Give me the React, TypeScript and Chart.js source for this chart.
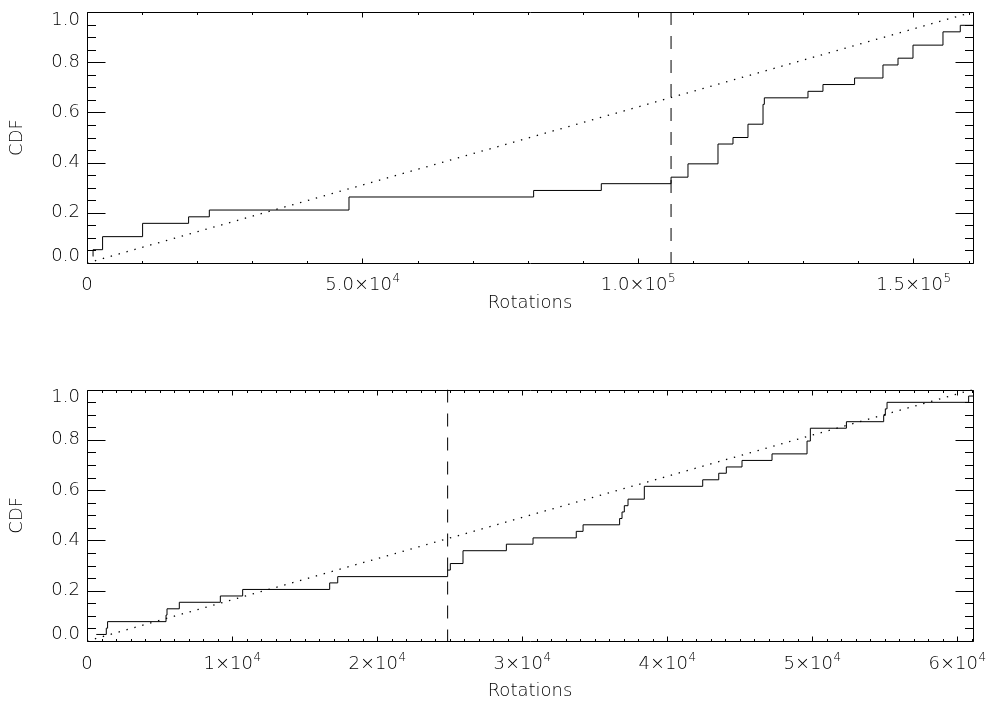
import React, { useEffect, useRef } from "react";
import { Chart, registerables } from "chart.js";

Chart.register(...registerables);

// ---------- Data ----------
const topRotations = [
  1090, 1100, 2830, 10090, 18440, 22200, 47550, 81060, 93340, 106000,
  109070, 114520, 117240, 119960, 122690, 122930, 130850, 133570, 139310,
  144460, 147190, 149910, 155350, 158490, 160800,
];
const topCdf = [
  0.026, 0.053, 0.105, 0.158, 0.184, 0.211, 0.263, 0.289, 0.316, 0.342,
  0.395, 0.474, 0.5, 0.553, 0.632, 0.658, 0.684, 0.711, 0.737,
  0.789, 0.816, 0.868, 0.921, 0.947, 0.947,
];
const topMaxRotation = 160800;
const topMarker = 106000;
const topXTickValues = [0, 50000, 100000, 150000];
const topXTickLabels = ["0", "5.0×10^4", "1.0×10^5", "1.5×10^5"];
const topXMinorStep = 10000;

const bottomRotations = [
  640, 1330, 1420, 5450, 5517, 6366, 9195, 10735, 16736, 17290, 24870,
  25055, 25930, 28920, 30760, 33740, 34210, 36730, 36896, 37055, 37310,
  38434, 42460, 43566, 44090, 45170, 47240, 49655, 49883, 52370, 54940,
  55055, 55172, 60800, 61100,
];
const bottomCdf = [
  0.026, 0.051, 0.077, 0.103, 0.128, 0.154, 0.179, 0.205, 0.231, 0.256,
  0.282, 0.308, 0.359, 0.385, 0.41, 0.436, 0.462, 0.487, 0.513, 0.538,
  0.564, 0.615, 0.641, 0.667, 0.692, 0.718, 0.744, 0.795, 0.846, 0.872,
  0.897, 0.923, 0.949, 0.974, 0.974,
];
const bottomMaxRotation = 61100;
const bottomMarker = 24870;
const bottomXTickValues = [0, 10000, 20000, 30000, 40000, 50000, 60000];
const bottomXTickLabels = ["0", "1×10^4", "2×10^4", "3×10^4", "4×10^4", "5×10^4", "6×10^4"];
const bottomXMinorStep = 1000;

const yTickValues = [0, 0.2, 0.4, 0.6, 0.8, 1.0];
const yTickLabels = ["0.0", "0.2", "0.4", "0.6", "0.8", "1.0"];
const yMinorStep = 0.05;

const xTitle = "Rotations";
const yTitle = "CDF";

// ---------- Styling ----------
const FONT_FAMILY = "'DejaVu Sans', sans-serif";
const FONT_WEIGHT = "300";
const FONT_SIZE = 18;
const SUP_SIZE = 12;
const TEXT_COLOR = "#000";

type PanelCfg = {
  rotations: number[];
  cdf: number[];
  xMax: number;
  marker: number;
  xTicks: number[];
  xLabels: string[];
  xMinor: number;
  padTop: number;
  xScaleHeight: number;
  xLabelBaseline: number;
  xTitlePadBottom: number;
};

const idlAxes = {
  id: "idlAxes",
  afterDraw(chart: any, _args: any, opts: any) {
    const { ctx, chartArea: a } = chart;
    const xs = chart.scales.x;
    const ys = chart.scales.y;
    const L = Math.round(a.left) + 0.5;
    const R = Math.round(a.right) + 0.5;
    const T = Math.round(a.top) + 0.5;
    const B = Math.round(a.bottom) + 0.5;
    ctx.save();
    ctx.strokeStyle = "#000";
    ctx.lineWidth = 1;
    ctx.beginPath();
    ctx.rect(L, T, R - L, B - T);
    ctx.stroke();

    // x ticks (inward, on bottom and top)
    const xMajor: number[] = opts.xTicks;
    ctx.beginPath();
    for (let v = 0; v <= xs.max + 1e-6; v += opts.xMinor) {
      const isMajor = xMajor.some((m) => Math.abs(m - v) < opts.xMinor * 0.01);
      const len = isMajor ? 5 : 2.5;
      const px = Math.round(xs.getPixelForValue(v)) + 0.5;
      ctx.moveTo(px, B);
      ctx.lineTo(px, B - len);
      ctx.moveTo(px, T);
      ctx.lineTo(px, T + len);
    }
    // y ticks (inward, on left and right)
    for (let i = 0; i <= Math.round(1 / yMinorStep); i++) {
      const v = i * yMinorStep;
      const isMajor = yTickValues.some((m) => Math.abs(m - v) < 1e-6);
      const len = isMajor ? 18 : 8.5;
      const py = Math.round(ys.getPixelForValue(v)) + 0.5;
      ctx.moveTo(L, py);
      ctx.lineTo(L + len, py);
      ctx.moveTo(R, py);
      ctx.lineTo(R - len, py);
    }
    ctx.stroke();

    // y tick labels
    ctx.fillStyle = TEXT_COLOR;
    ctx.font = `${FONT_WEIGHT} ${FONT_SIZE}px ${FONT_FAMILY}`;
    ctx.textAlign = "right";
    ctx.textBaseline = "middle";
    yTickValues.forEach((v, i) => {
      let py = ys.getPixelForValue(v);
      py = Math.min(Math.max(py, a.top + 8), a.bottom - 7);
      ctx.fillText(yTickLabels[i], a.left - 7, py);
    });

    // x tick labels with superscripts
    ctx.textAlign = "left";
    ctx.textBaseline = "alphabetic";
    const baseFont = `${FONT_WEIGHT} ${FONT_SIZE}px ${FONT_FAMILY}`;
    const supFont = `${FONT_WEIGHT} ${SUP_SIZE}px ${FONT_FAMILY}`;
    xMajor.forEach((v, i) => {
      const [base, exp] = (opts.xLabels[i] as string).split("^");
      ctx.font = baseFont;
      const wb = ctx.measureText(base).width;
      ctx.font = supFont;
      const we = exp ? ctx.measureText(exp).width : 0;
      const px = xs.getPixelForValue(v);
      const x0 = px - (wb + we) / 2;
      const by = a.bottom + opts.xLabelBaseline;
      ctx.font = baseFont;
      ctx.fillText(base, x0, by);
      if (exp) {
        ctx.font = supFont;
        ctx.fillText(exp, x0 + wb + 0.5, by - 8);
      }
    });
    ctx.restore();
  },
};

function Panel({ cfg }: { cfg: PanelCfg }) {
  const ref = useRef<HTMLCanvasElement | null>(null);
  useEffect(() => {
    if (!ref.current) return;
    const titleFont = { family: FONT_FAMILY, size: FONT_SIZE, weight: FONT_WEIGHT as any };
    const chart = new Chart(ref.current, {
      type: "scatter",
      data: {
        datasets: [
          {
            data: cfg.rotations.map((x, i) => ({ x, y: cfg.cdf[i] })),
            showLine: true,
            stepped: true,
            borderColor: "#000",
            borderWidth: 1,
            pointRadius: 0,
          } as any,
          {
            data: [
              { x: 0, y: 0 },
              { x: cfg.xMax, y: 1 },
            ],
            showLine: true,
            borderColor: "#000",
            borderWidth: 1.3,
            borderDash: [1.4, 6.8],
            pointRadius: 0,
          },
          {
            data: [
              { x: cfg.marker, y: 1 },
              { x: cfg.marker, y: 0 },
            ],
            showLine: true,
            borderColor: "#000",
            borderWidth: 1,
            borderDash: [13, 11],
            pointRadius: 0,
          },
        ],
      },
      options: {
        animation: false,
        responsive: false,
        events: [],
        layout: { padding: { top: cfg.padTop, right: 17, left: 0, bottom: 0 } },
        plugins: {
          legend: { display: false },
          tooltip: { enabled: false },
          idlAxes: {
            xTicks: cfg.xTicks,
            xLabels: cfg.xLabels,
            xMinor: cfg.xMinor,
            xLabelBaseline: cfg.xLabelBaseline,
          },
        } as any,
        scales: {
          x: {
            type: "linear",
            min: 0,
            max: cfg.xMax,
            grid: { display: false },
            border: { display: false },
            ticks: { display: false },
            title: {
              display: true,
              text: xTitle,
              color: TEXT_COLOR,
              font: titleFont,
              padding: { top: 0, bottom: cfg.xTitlePadBottom },
            },
            afterFit: (s: any) => {
              s.height = cfg.xScaleHeight;
            },
          },
          y: {
            type: "linear",
            min: 0,
            max: 1,
            grid: { display: false },
            border: { display: false },
            ticks: { display: false },
            title: {
              display: true,
              text: yTitle,
              color: TEXT_COLOR,
              font: titleFont,
              padding: { top: 7, bottom: 0 },
            },
            afterFit: (s: any) => {
              s.width = 87;
            },
          },
        },
      },
      plugins: [idlAxes],
    });
    return () => chart.destroy();
  }, [cfg]);
  return <canvas ref={ref} width={990} height={352} style={{ display: "block", width: 990, height: 352 }} />;
}

const topCfg: PanelCfg = {
  rotations: topRotations,
  cdf: topCdf,
  xMax: topMaxRotation,
  marker: topMarker,
  xTicks: topXTickValues,
  xLabels: topXTickLabels,
  xMinor: topXMinorStep,
  padTop: 12,
  xScaleHeight: 89,
  xLabelBaseline: 27,
  xTitlePadBottom: 38,
};

const bottomCfg: PanelCfg = {
  rotations: bottomRotations,
  cdf: bottomCdf,
  xMax: bottomMaxRotation,
  marker: bottomMarker,
  xTicks: bottomXTickValues,
  xLabels: bottomXTickLabels,
  xMinor: bottomXMinorStep,
  padTop: 37.5,
  xScaleHeight: 63,
  xLabelBaseline: 28,
  xTitlePadBottom: 2,
};

export default function App() {
  return (
    <div style={{ position: "absolute", left: 0, top: 0, width: 990, height: 704, background: "#fff" }}>
      <Panel cfg={topCfg} />
      <Panel cfg={bottomCfg} />
    </div>
  );
}
